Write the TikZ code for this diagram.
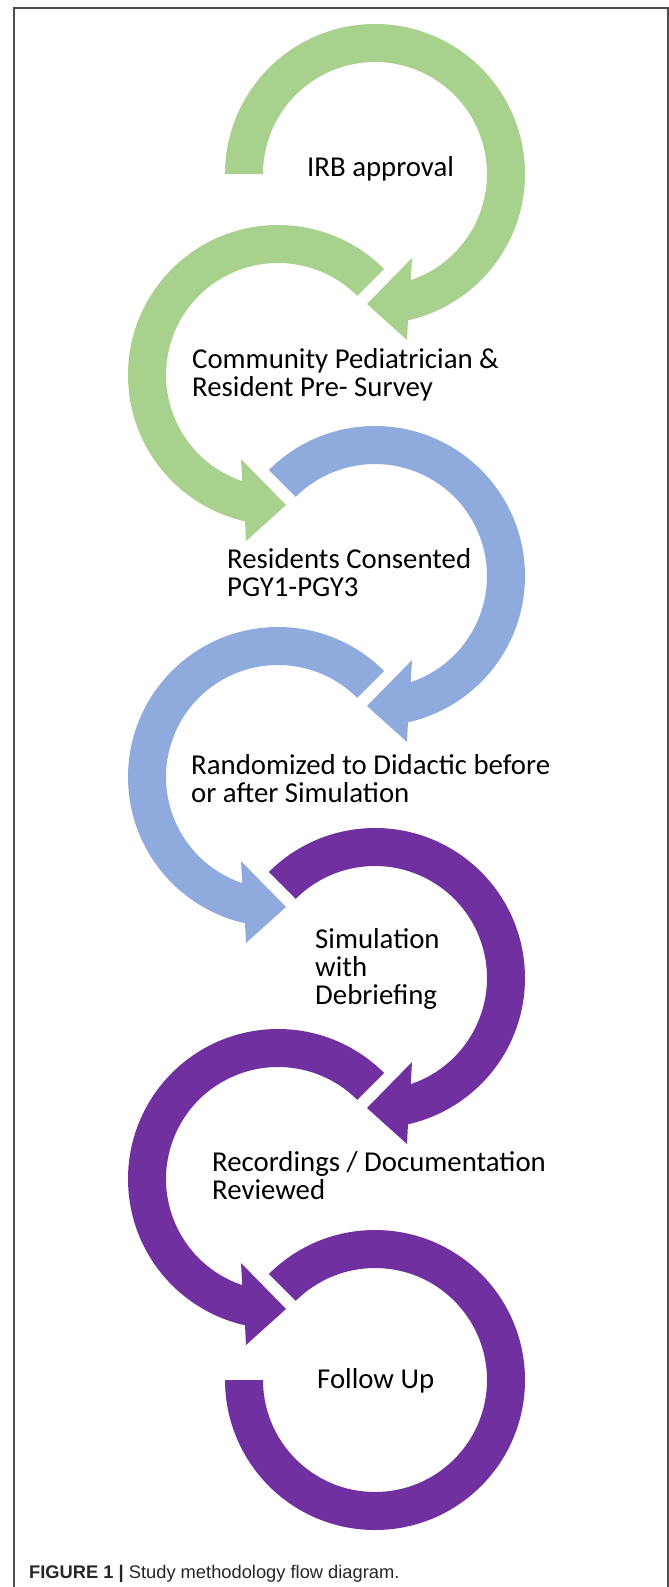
\documentclass[tikz,border=0pt]{standalone}
\usepackage{fontspec}
\setmainfont{Carlito}
\newfontfamily\capfont{Liberation Sans}
\usetikzlibrary{calc}
\definecolor{cgreen}{HTML}{A9D18E}
\definecolor{cblue}{HTML}{8FAADC}
\definecolor{cpurple}{HTML}{7030A0}
\newcommand\evenarc[3]{%
  \fill[#3] ($(#1)+(#2:150)$) arc[start angle=#2, end angle=-77.3, radius=150]
    -- ($(#1)+(32,-166)$) -- ($(#1)+(-8,-130)$) -- ($(#1)+(37,-84)$)
    -- ($(#1)+(-71.4:112)$) arc[start angle=-71.4, end angle=#2, radius=112] -- cycle;}
\newcommand\oddarc[2]{%
  \fill[#2] ($(#1)+(45:150)$) arc[start angle=45, end angle=257.3, radius=150]
    -- ($(#1)+(-32,-166)$) -- ($(#1)+(8,-130)$) -- ($(#1)+(-37,-84)$)
    -- ($(#1)+(251.4:112)$) arc[start angle=251.4, end angle=45, radius=112] -- cycle;}
\begin{document}
\begin{tikzpicture}[x=1pt,y=1pt,
  lbl/.style={font=\fontsize{28.8}{28}\selectfont, align=left, anchor=base west, inner sep=0pt, text=black},
  caption/.style={font=\capfont\fontsize{18.3}{20}\selectfont, anchor=base west, inner sep=0pt, text=black!85},
  frame/.style={draw=black!70, line width=1.1pt}]
\useasboundingbox (0,0) rectangle (669,-1587);
\fill[white] (0,0) rectangle (669,-1587);
% frame
\draw[frame] (14,-1587) -- (14,-8) -- (668,-8) -- (668,-1587);
% centres
\coordinate (c0) at (375,-174);
\coordinate (c1) at (278,-375);
\coordinate (c2) at (375,-576);
\coordinate (c3) at (278,-777);
\coordinate (c4) at (375,-978);
\coordinate (c5) at (278,-1179);
\coordinate (c6) at (375,-1380);
% arcs
\evenarc{c0}{180}{cgreen}
\oddarc{c1}{cgreen}
\evenarc{c2}{135}{cblue}
\oddarc{c3}{cblue}
\evenarc{c4}{135}{cpurple}
\oddarc{c5}{cpurple}
\fill[cpurple] ($(c6)+(135:150)$) arc[start angle=135, end angle=-180, radius=150]
  -- ($(c6)+(-112,0)$) arc[start angle=-180, end angle=135, radius=112] -- cycle;
% labels (anchor = baseline of last line)
\node[lbl] (t0) at (307,-176) {IRB approval};
\node[lbl] (t1) at (192,-396) {Community Pediatrician \&\\Resident Pre- Survey};
\node[lbl] (t2) at (227,-596) {Residents Consented\\PGY1-PGY3};
\node[lbl] (t3) at (191,-802) {Randomized to Didactic before\\or after Simulation};
\node[lbl] (t4) at (315,-1004) {Simulation\\with\\Debriefing};
\node[lbl] (t5) at (212,-1199) {Recordings / Documentation\\Reviewed};
\node[lbl] (t6) at (317,-1388) {Follow Up};
% caption
\node[caption] (cap) at (29,-1578) {\textbf{FIGURE 1 |} Study methodology flow diagram.};
\end{tikzpicture}
\end{document}
